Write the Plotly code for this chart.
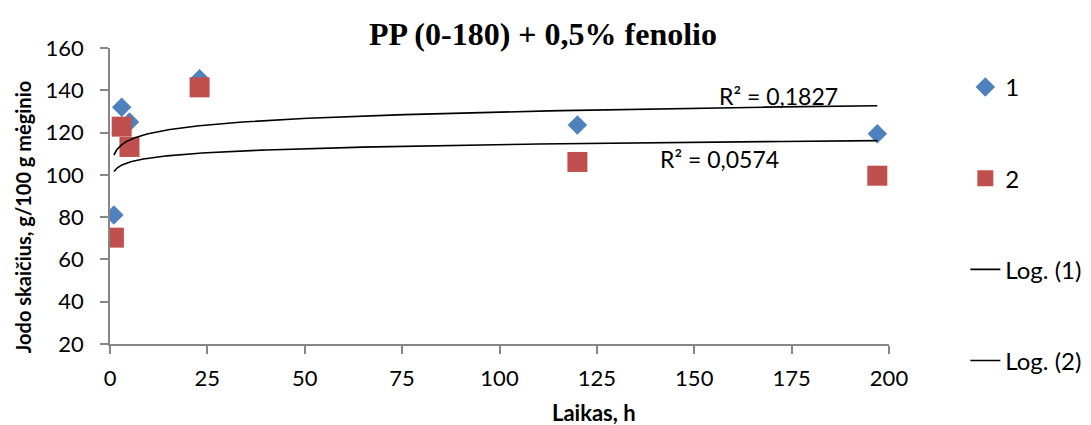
import numpy as np
import plotly.graph_objects as go

# data
laikas = [1, 3, 5, 23, 120, 197]
jodo_1 = [81, 132, 125, 145.5, 123.6, 119.5]
jodo_2 = [70.3, 122.8, 113.2, 141.4, 106.1, 99.6]

r2_1 = "R² = 0,1827"
r2_2 = "R² = 0,0574"

title = "PP (0-180) + 0,5% fenolio"
x_title = "Laikas, h"
y_title = "Jodo skaičius, g/100 g mėginio"

blue = "#4F81BD"
red = "#C0504D"
font_main = "Lato, 'Open Sans', sans-serif"


# logarithmic trendline, like the excel one
def log_trend(x, y):
    x = np.array(x, dtype=float)
    y = np.array(y, dtype=float)
    b, a = np.polyfit(np.log(x), y, 1)
    xs = np.geomspace(x.min(), x.max(), 200)
    return xs, a + b * np.log(xs)


fig = go.Figure()

fig.add_trace(go.Scatter(
    x=laikas, y=jodo_1, name="1", mode="markers", legendgroup="a",
    marker=dict(symbol="diamond", size=15, color=blue),
))
fig.add_trace(go.Scatter(
    x=laikas, y=jodo_2, name="2", mode="markers", legendgroup="b",
    marker=dict(symbol="square", size=20, color=red),
))

tx1, ty1 = log_trend(laikas, jodo_1)
tx2, ty2 = log_trend(laikas, jodo_2)
fig.add_trace(go.Scatter(
    x=tx1, y=ty1, name="Log. (1)", mode="lines", legendgroup="c",
    line=dict(color="black", width=1.6),
))
fig.add_trace(go.Scatter(
    x=tx2, y=ty2, name="Log. (2)", mode="lines", legendgroup="d",
    line=dict(color="black", width=1.6),
))

# R^2 labels
fig.add_annotation(x=171.6, y=137.4, text=r2_1, showarrow=False,
                   font=dict(size=23, color="black", family=font_main))
fig.add_annotation(x=156.6, y=107.6, text=r2_2, showarrow=False,
                   font=dict(size=23, color="black", family=font_main))

# axis titles (moved like in the excel original)
fig.add_annotation(xref="paper", yref="paper", x=-0.1124, y=0.43,
                   xanchor="center", yanchor="middle",
                   text="<b>" + y_title + "</b>", textangle=-90, showarrow=False,
                   font=dict(size=20, color="black", family=font_main))
fig.add_annotation(xref="paper", yref="paper", x=0.621, y=-0.233,
                   xanchor="center", yanchor="middle",
                   text="<b>" + x_title + "</b>", showarrow=False,
                   font=dict(size=22, color="black", family=font_main))

# page body has an 8px margin -> shift plot area up/left by 8px
fig.update_layout(
    width=1091, height=425,
    margin=dict(l=102, r=206, t=40, b=89),
    paper_bgcolor="white", plot_bgcolor="white",
    font=dict(family=font_main, size=22, color="black"),
    title=dict(text="<b>" + title + "</b>", x=0.4904, xref="container", xanchor="center",
               y=0.939, yref="container", yanchor="middle",
               font=dict(family="'Liberation Serif', 'Times New Roman', serif", size=32, color="black")),
    showlegend=True,
    legend=dict(x=1.098, xanchor="left", y=0.943, yanchor="top",
                tracegroupgap=57, maxheight=400, font=dict(size=24),
                bgcolor="rgba(0,0,0,0)"),
    xaxis=dict(
        range=[0, 200], dtick=25, tick0=0,
        showgrid=False, zeroline=False,
        showline=True, linecolor="#868686", linewidth=1.5,
        ticks="outside", ticklen=8, tickcolor="#868686", tickwidth=1.5,
        ticklabelstandoff=6,
    ),
    yaxis=dict(
        range=[20, 160], dtick=20, tick0=20,
        showgrid=False, zeroline=False,
        showline=True, linecolor="#868686", linewidth=1.5,
        ticks="outside", ticklen=8, tickcolor="#868686", tickwidth=1.5,
        ticklabelstandoff=12,
    ),
)

fig.write_html("out.html")
